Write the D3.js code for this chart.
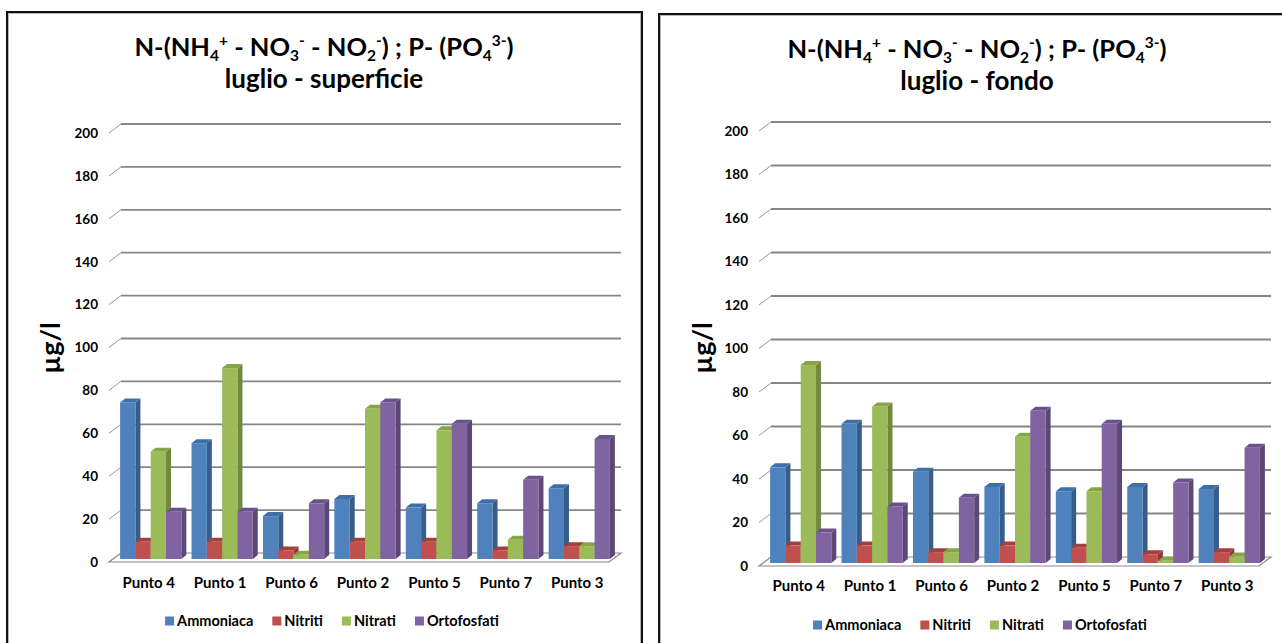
<!DOCTYPE html>
<html>
<head>
<meta charset="utf-8">
<script src="https://cdn.jsdelivr.net/npm/d3@7"></script>
<style>
  html, body { margin: 0; padding: 0; background: #fff; }
  svg { display: block; }
  text { font-family: Lato, Carlito, Calibri, "Open Sans", sans-serif; fill: #000; }
</style>
</head>
<body>
<svg id="chart" width="1282" height="643"></svg>
<script>
// Stations and nutrient series (µg/l), July sampling
const categories = ["Punto 4", "Punto 1", "Punto 6", "Punto 2", "Punto 5", "Punto 7", "Punto 3"];
const seriesNames = ["Ammoniaca", "Nitriti", "Nitrati", "Ortofosfati"];
const yTicks = [0, 20, 40, 60, 80, 100, 120, 140, 160, 180, 200];

// surface samples
const superficieAmmoniaca   = [73, 54, 20, 28, 24, 26, 33];
const superficieNitriti     = [8, 8, 4, 8, 8, 4, 6];
const superficieNitrati     = [50, 89, 2, 70, 60, 9, 6];
const superficieOrtofosfati = [22, 22, 26, 73, 63, 37, 56];

// bottom samples
const fondoAmmoniaca   = [44, 64, 42, 35, 33, 35, 34];
const fondoNitriti     = [8, 8, 5, 8, 7, 4, 5];
const fondoNitrati     = [91, 72, 5, 58, 33, 1, 3];
const fondoOrtofosfati = [14, 26, 30, 70, 64, 37, 53];

const palette = {
  Ammoniaca:   { front: "#4F81BD", top: "#3F6FA8", side: "#385D8A" },
  Nitriti:     { front: "#C0504D", top: "#A63F3C", side: "#8C3836" },
  Nitrati:     { front: "#9BBB59", top: "#86A546", side: "#71893F" },
  Ortofosfati: { front: "#8064A2", top: "#6B528C", side: "#5C4776" }
};

const panels = [
  {
    subtitle: "luglio - superficie",
    series: [superficieAmmoniaca, superficieNitriti, superficieNitrati, superficieOrtofosfati],
    box: { x: 7, y: 12, w: 635, h: 700 },
    wall: { x0: 121, x1: 621, yTop: 124, yBase: 553 },
    titleX: 324, titleY1: 56, titleY2: 88,
    yLabelX: 60, yLabelY: 348,
    catY: 588, legendY: 621, legendCx: 332
  },
  {
    subtitle: "luglio - fondo",
    series: [fondoAmmoniaca, fondoNitriti, fondoNitrati, fondoOrtofosfati],
    box: { x: 659, y: 14, w: 700, h: 700 },
    wall: { x0: 771, x1: 1271, yTop: 122, yBase: 557 },
    titleX: 977, titleY1: 58, titleY2: 90,
    yLabelX: 712, yLabelY: 348,
    catY: 591, legendY: 625, legendCx: 980
  }
];

// oblique depth of the floor and of the bars
const depth = { dx: 12, dy: 9 };      // back wall -> front edge of the floor
const barFront = { dx: 6, dy: 6 };    // back wall -> bar front face
const barDepth = { dx: 5, dy: 4 };    // bar front face -> bar back face

const svg = d3.select("#chart");

function drawTitle(g, p) {
  const t = g.append("text")
    .attr("x", p.titleX).attr("y", p.titleY1)
    .attr("text-anchor", "middle")
    .style("font-size", "25.5px").style("font-weight", "bold");
  const parts = [
    ["N-(NH", 0], ["4", 1], ["+", -1], [" - NO", 0], ["3", 1], ["-", -1],
    [" - NO", 0], ["2", 1], ["-", -1], [") ; P- (PO", 0], ["4", 1], ["3-", -1], [")", 0]
  ];
  let shift = 0;
  parts.forEach(([s, kind]) => {
    const target = kind === 1 ? 5 : kind === -1 ? -10 : 0;
    const ts = t.append("tspan").text(s).attr("dy", target - shift);
    if (kind !== 0) ts.style("font-size", "15.5px");
    shift = target;
  });
  g.append("text")
    .attr("x", p.titleX).attr("y", p.titleY2)
    .attr("text-anchor", "middle")
    .style("font-size", "26px").style("font-weight", "bold")
    .text(p.subtitle);
}

panels.forEach(p => {
  const g = svg.append("g");
  const w = p.wall;

  // frame
  g.append("rect")
    .attr("x", p.box.x + 1.5).attr("y", p.box.y + 1.5)
    .attr("width", p.box.w - 3).attr("height", p.box.h)
    .attr("fill", "none").attr("stroke", "#b8b8b8").attr("stroke-width", 1);
  g.append("rect")
    .attr("x", p.box.x).attr("y", p.box.y)
    .attr("width", p.box.w).attr("height", p.box.h)
    .attr("fill", "none").attr("stroke", "#111").attr("stroke-width", 2);

  drawTitle(g, p);

  const y = d3.scaleLinear().domain([0, 200]).range([w.yBase, w.yTop]);
  const x = d3.scaleBand().domain(categories).range([w.x0, w.x1]).paddingInner(0.143).paddingOuter(0.0715);
  const xs = d3.scaleBand().domain(seriesNames).range([0, x.bandwidth()]);

  // floor
  g.append("path")
    .attr("d", `M${w.x0},${w.yBase}L${w.x1},${w.yBase}L${w.x1 - depth.dx},${w.yBase + depth.dy}L${w.x0 - depth.dx},${w.yBase + depth.dy}Z`)
    .attr("fill", "#fff").attr("stroke", "#8a8a8a").attr("stroke-width", 1.2);

  // gridlines on the back wall, with the short diagonal on the side wall
  const grid = g.append("g");
  yTicks.filter(v => v > 0).forEach(v => {
    grid.append("line")
      .attr("x1", w.x0).attr("x2", w.x1)
      .attr("y1", y(v)).attr("y2", y(v))
      .attr("stroke", "#868686").attr("stroke-width", 1.8);
  });
  yTicks.forEach(v => {
    grid.append("line")
      .attr("x1", w.x0 - depth.dx).attr("y1", y(v) + depth.dy)
      .attr("x2", w.x0).attr("y2", y(v))
      .attr("stroke", "#999").attr("stroke-width", 1);
  });

  // value axis labels
  const yAxis = d3.axisLeft(y).tickValues(yTicks).tickSize(0).tickPadding(0);
  const ya = g.append("g")
    .attr("transform", `translate(${w.x0 - depth.dx - 11},${depth.dy})`)
    .call(yAxis);
  ya.select(".domain").remove();
  ya.selectAll("text")
    .style("font-size", "13.5px").style("font-weight", "bold")
    .style("font-family", "Lato, Carlito, Calibri, sans-serif");

  g.append("text")
    .attr("transform", `translate(${p.yLabelX},${p.yLabelY}) rotate(-90)`)
    .attr("text-anchor", "middle")
    .style("font-size", "27px").style("font-weight", "bold")
    .text("µg/l");

  // 3D columns
  const bars = g.append("g");
  categories.forEach((c, ci) => {
    seriesNames.forEach((s, si) => {
      const v = p.series[si][ci];
      const col = palette[s];
      const bx = x(c) + xs(s) - barFront.dx;
      const bw = xs.bandwidth();
      const base = y(0) + barFront.dy;
      const top = y(v) + barFront.dy;
      const b = bars.append("g");
      b.append("path")
        .attr("d", `M${bx + bw},${top}L${bx + bw + barDepth.dx},${top - barDepth.dy}L${bx + bw + barDepth.dx},${base - barDepth.dy}L${bx + bw},${base}Z`)
        .attr("fill", col.side);
      b.append("path")
        .attr("d", `M${bx},${top}L${bx + barDepth.dx},${top - barDepth.dy}L${bx + bw + barDepth.dx},${top - barDepth.dy}L${bx + bw},${top}Z`)
        .attr("fill", col.top);
      b.append("rect")
        .attr("x", bx).attr("y", top)
        .attr("width", bw).attr("height", base - top)
        .attr("fill", col.front);
    });
  });

  // category labels
  const xa = g.append("g")
    .attr("transform", `translate(${-barFront.dx - 2},${p.catY})`)
    .call(d3.axisBottom(x).tickSize(0).tickPadding(0));
  xa.select(".domain").remove();
  xa.selectAll("text")
    .attr("dy", "0")
    .style("font-size", "15px").style("font-weight", "bold")
    .style("font-family", "Lato, Carlito, Calibri, sans-serif");

  // legend, centred under the plot
  const lg = g.append("g");
  let lx = 0;
  seriesNames.forEach((s, i) => {
    const item = lg.append("g").attr("transform", `translate(${lx},0)`);
    item.append("rect").attr("x", 0).attr("y", -4.5).attr("width", 9).attr("height", 9)
      .attr("fill", palette[s].front);
    const t = item.append("text").attr("x", 12).attr("y", 0).attr("dy", "0.36em")
      .style("font-size", "14.5px").style("font-weight", "bold").text(s);
    lx += 12 + t.node().getComputedTextLength() + (i < seriesNames.length - 1 ? 19 : 0);
  });
  lg.attr("transform", `translate(${p.legendCx - lx / 2},${p.legendY})`);
});
</script>
</body>
</html>
